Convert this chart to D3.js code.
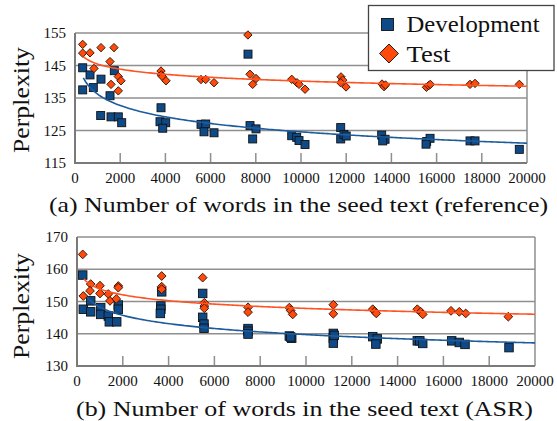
<!DOCTYPE html>
<html><head><meta charset="utf-8">
<script src="https://cdn.jsdelivr.net/npm/d3@7/dist/d3.min.js"></script>
<style>html,body{margin:0;padding:0;background:#fff;}svg{display:block;} text{font-family:'Liberation Serif','DejaVu Serif',serif;}</style>
</head><body>
<svg id="c" width="557" height="421"></svg>
<script>
// ---- Panel (a): reference seed text ----
const aDevX = [340,340,664,810,1150,1739,1549,1137,1593,1916,2066, 3806,3761,4013,3881, 5576,5783,5708,6151, 7655,7744,8009,7862, 9589,9810,9912,10178, 11757,11757,11900,12000, 13570,13720,13615, 15560,15710,15532, 17479,17700, 19660];
const aDevY = [144.3,137.5,142.1,138.2,140.8,143.4,135.7,129.6,129.2,129.2,127.4, 132.0,127.7,127.4,125.7, 126.9,127.0,124.6,124.3, 148.5,126.5,125.5,122.4, 123.4,122.9,121.9,120.7, 125.9,122.4,123.8,123.3, 123.6,122.3,121.8, 121.6,122.6,120.8, 121.8,121.8, 119.2];
const aTestX = [340,340,664,841,1150,1549,1726,1593,1916,2036,1916, 3806,3819,3863,4027, 5576,5783,6150, 7650,7744,8009,7862, 9589,9824,9912,10178, 11771,11845,11757,11992, 13585,13673,13740, 15550,15650,15720, 17479,17700, 19660];
const aTestY = [151.5,148.8,148.9,144.1,150.5,146.2,150.5,139.2,141.6,140.3,137.2, 143.3,142.1,141.6,140.3, 140.7,140.7,139.7, 154.4,142.3,141.0,139.2, 140.75,139.7,139.2,137.7, 141.5,140.5,139.7,138.4, 139.3,138.5,139.0, 138.3,138.8,139.2, 139.2,139.5, 139.2];
// log trend lines y = a + b*ln(x)
const aDevFit = [171.0, -5.04];
const aTestFit = [161.2, -2.28];
const aYTicks = [115,125,135,145,155];

// ---- Panel (b): ASR seed text ----
const bDevX = [249,275,598,598,1035,1035,1367,1411,1734,1804,1804, 3698,3661,3661,3640, 5488,5488,5546,5546, 7468,7468,7468, 9272,9376,9330, 11193,11193,11193,11230, 12913,13110,13050, 14860,14970,15097, 16362,16694,16944, 18865];
const bDevY = [158.2,147.6,150.2,146.8,148.1,146.0,145.5,143.7,143.7,148.9,147.6, 153.0,148.6,147.6,146.3, 152.5,145.1,143.0,141.7, 141.6,140.8,139.9, 139.3,138.6,139.0, 140.1,138.6,137.1,139.5, 139.1,138.4,136.8, 137.8,137.8,137.0, 137.8,137.3,136.7, 135.7];
const bTestX = [249,275,598,568,1004,1004,1367,1441,1716,1804,1804, 3698,3698,3698, 5488,5560,5560,5560, 7468,7468, 9272,9330,9420, 11193,11193, 12913,13000,13070, 14862,15010,15097, 16332,16694,16974, 18835];
const bTestY = [164.6,151.7,155.4,153.3,154.9,152.5,152.3,150.2,150.8,154.8,154.3, 157.9,154.6,153.8, 157.4,149.6,148.6,147.9, 148.2,146.7, 148.1,147.2,146.0, 149.0,146.2, 147.6,146.9,146.3, 147.6,146.8,146.0, 147.1,146.8,146.3, 145.3];
const bDevFit = [173.9, -3.71];
const bTestFit = [171.9, -2.61];
const bYTicks = [130,140,150,160,170];

const xTicks = [0,2000,4000,6000,8000,10000,12000,14000,16000,18000,20000];
const seriesNames = ["Development","Test"];
const captions = ["(a) Number of words in the seed text (reference)","(b) Number of words in the seed text (ASR)"];
const yLabel = "Perplexity";

const DEV_FILL = "#0e4a88", TEST_FILL = "#ff4a0c";
const DEV_LINE = "#1d5c9c", TEST_LINE = "#ff5322";
const FONT = "'Liberation Serif','DejaVu Serif',serif";

const svg = d3.select("#c").attr("font-family", FONT);

function panel(cfg) {
  const x = d3.scaleLinear().domain([0,20000]).range([cfg.x0,cfg.x1]);
  const y = d3.scaleLinear().domain([cfg.yTicks[0], cfg.yTicks[cfg.yTicks.length-1]]).range([cfg.y1,cfg.y0]);
  const g = svg.append("g");
  g.selectAll(".grid").data(cfg.yTicks.slice(1)).enter().append("line")
    .attr("x1",cfg.x0).attr("x2",cfg.x1).attr("y1",d=>y(d)).attr("y2",d=>y(d))
    .attr("stroke","#8f8f8f").attr("stroke-width",1.5);
  g.append("line").attr("x1",cfg.x1).attr("x2",cfg.x1).attr("y1",cfg.y0).attr("y2",cfg.y1)
    .attr("stroke","#8f8f8f").attr("stroke-width",1.5);
  g.selectAll(".xt").data(xTicks.slice(1,-1)).enter().append("line")
    .attr("x1",d=>x(d)).attr("x2",d=>x(d)).attr("y1",cfg.y1).attr("y2",cfg.y1-10)
    .attr("stroke","#8f8f8f").attr("stroke-width",1.5);
  g.append("path").attr("d",`M${cfg.x0},${cfg.y0}V${cfg.y1}H${cfg.x1}`)
    .attr("fill","none").attr("stroke","#7a7a7a").attr("stroke-width",2);
  g.selectAll(".yl").data(cfg.yTicks).enter().append("text")
    .attr("x",cfg.x0-9).attr("y",d=>y(d)+5).attr("text-anchor","end")
    .attr("font-family",FONT).attr("font-size",15).attr("fill","#111").text(d=>d);
  g.selectAll(".xl").data(xTicks).enter().append("text")
    .attr("x",d=>x(d)).attr("y",cfg.y1+20).attr("text-anchor","middle")
    .attr("font-family",FONT).attr("font-size",15).attr("fill","#111").text(d=>d);
  const fitLine = (fit, xmin) => {
    const xs = d3.range(0,201).map(i => xmin + (20000-xmin)*i/200);
    return d3.line().x(v=>x(v)).y(v=>y(fit[0]+fit[1]*Math.log(v)))(xs);
  };
  const dev = d3.zip(cfg.devX,cfg.devY), test = d3.zip(cfg.testX,cfg.testY);
  const s = cfg.sq;
  g.selectAll(".dev").data(dev).enter().append("rect")
    .attr("x",d=>x(d[0])-s/2).attr("y",d=>y(d[1])-s/2).attr("width",s).attr("height",s)
    .attr("fill",DEV_FILL).attr("stroke","#111").attr("stroke-width",0.9);
  g.append("path").attr("d",fitLine(cfg.devFit,cfg.fitMin)).attr("fill","none")
    .attr("stroke",DEV_LINE).attr("stroke-width",1.6);
  const r = cfg.dm;
  g.selectAll(".test").data(test).enter().append("path")
    .attr("d",d=>{const cx=x(d[0]),cy=y(d[1]);return `M${cx},${cy-r}L${cx+r},${cy}L${cx},${cy+r}L${cx-r},${cy}Z`;})
    .attr("fill",TEST_FILL).attr("stroke","#2a1000").attr("stroke-width",0.9);
  g.append("path").attr("d",fitLine(cfg.testFit,cfg.fitMin)).attr("fill","none")
    .attr("stroke",TEST_LINE).attr("stroke-width",1.6);
  g.append("text").attr("transform",`translate(29,${cfg.labelY}) rotate(-90)`)
    .attr("text-anchor","middle").attr("font-family",FONT).attr("font-size",23).attr("fill","#111")
    .attr("textLength",106).attr("lengthAdjust","spacingAndGlyphs").text(yLabel);
  g.append("text").attr("x",cfg.capX).attr("y",cfg.capY).attr("font-family",FONT).attr("font-size",21).attr("fill","#111")
    .attr("textLength",cfg.capW).attr("lengthAdjust","spacingAndGlyphs").text(cfg.caption);
}

panel({x0:75,x1:527,y0:33,y1:163,yTicks:aYTicks,devX:aDevX,devY:aDevY,testX:aTestX,testY:aTestY,
  devFit:aDevFit,testFit:aTestFit,fitMin:370,sq:8,dm:4.2,labelY:100,capX:49,capY:212,capW:499,caption:captions[0]});
panel({x0:77,x1:535,y0:237,y1:366,yTicks:bYTicks,devX:bDevX,devY:bDevY,testX:bTestX,testY:bTestY,
  devFit:bDevFit,testFit:bTestFit,fitMin:300,sq:8.5,dm:4.4,labelY:306,capX:76,capY:416,capW:457,caption:captions[1]});

const lg = svg.append("g");
lg.append("rect").attr("x",368.5).attr("y",5.5).attr("width",185.5).attr("height",65)
  .attr("fill","#fff").attr("stroke","#444").attr("stroke-width",1.3);
lg.append("rect").attr("x",381.5).attr("y",18.5).attr("width",12).attr("height",12)
  .attr("fill",DEV_FILL).attr("stroke","#111").attr("stroke-width",0.9);
lg.append("path").attr("d","M389,44L398.5,53.5L389,63L379.5,53.5Z")
  .attr("fill",TEST_FILL).attr("stroke","#111").attr("stroke-width",0.9);
lg.append("text").attr("x",406.5).attr("y",32).attr("font-family",FONT).attr("font-size",23).attr("fill","#111")
  .attr("textLength",133).attr("lengthAdjust","spacingAndGlyphs").text(seriesNames[0]);
lg.append("text").attr("x",406.5).attr("y",62).attr("font-family",FONT).attr("font-size",23).attr("fill","#111")
  .attr("textLength",44).attr("lengthAdjust","spacingAndGlyphs").text(seriesNames[1]);
</script>
</body></html>
